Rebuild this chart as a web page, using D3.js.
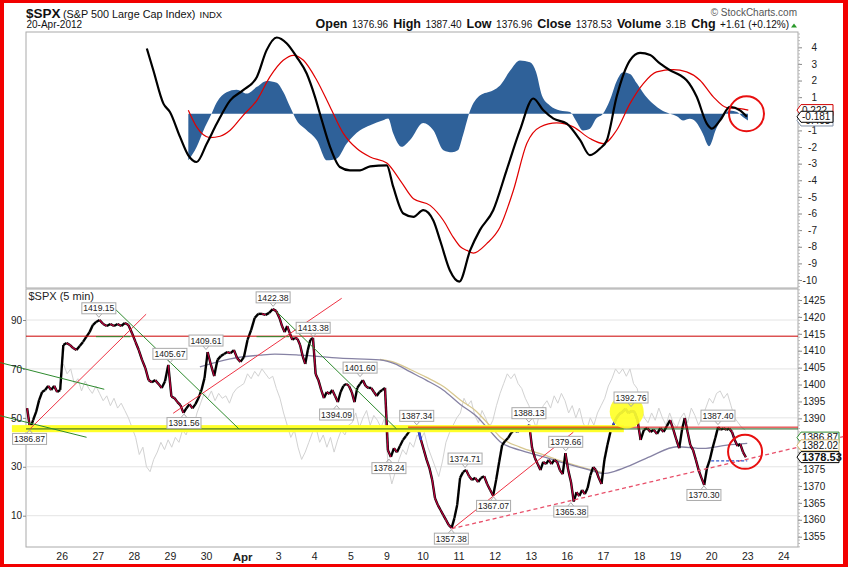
<!DOCTYPE html>
<html><head><meta charset="utf-8">
<script src="https://cdn.jsdelivr.net/npm/d3@7"></script>
<style>body{margin:0;background:#fff}svg{display:block}text{font-family:"Liberation Sans",Arial,sans-serif}</style>
</head><body><svg id="c" width="848" height="567"></svg>
<script>
// ---------- DATA ----------
const dayTicks = d3.range(1, 22);
const dayLabels = ["26","27","28","29","30","Apr","3","4","5","9","10","11","12","13","16","17","18","19","20","23","24"];

// 5-min SPX price samples, evenly spaced through each trading day (Mar 23 .. Apr 20)
const priceByDay = [
 [1393.0,1386.9,1389.5,1391.9,1395.4,1397.8,1398.4,1399.6,1398.4,1399.6,1397.8,1398.4],
 [1411.7,1412.3,1411.7,1410.8,1410.2,1411.4,1412.6,1414.1,1415.5,1417.6,1418.5],
 [1419.1,1417.9,1417.3,1417.9,1417.3,1417.9,1417.3,1418.2,1417.6,1415.2],
 [1412.6,1410.2,1407.3,1404.9,1401.3,1400.7,1401.3,1400.2,1399.0,1401.0,1405.8],
 [1396.4,1396.0,1394.8,1393.9,1391.6,1393.0,1394.2,1393.0,1394.2,1396.0,1398.4,1401.9],
 [1409.6,1405.8,1402.5,1407.3,1408.4,1409.0,1409.6,1409.3,1410.2,1407.8,1406.7],
 [1408.1,1413.2,1416.1,1419.7,1420.9,1420.9,1420.6,1421.2,1422.3,1421.7],
 [1419.7,1417.3,1415.5,1417.3,1415.2,1413.2,1413.8,1413.5,1411.7,1408.4,1406.1,1410.2,1413.2,1413.8],
 [1403.1,1401.3,1398.4,1396.0,1397.8,1397.2,1398.4,1396.6,1394.8,1397.8,1399.6,1400.2,1399.6],
 [1397.8,1394.8,1399.0,1400.2,1401.3,1399.6,1399.0,1399.0,1397.8,1396.6,1397.8,1398.4,1399.0],
 [1380.6,1378.6,1381.2,1380.0,1381.8,1383.6,1384.8,1386.0,1387.1,1387.4,1387.1,1383.6],
 [1380.6,1377.7,1375.3,1371.8,1366.4,1364.4,1362.9,1361.4,1359.9,1358.4,1357.6,1360.5,1364.4],
 [1372.4,1374.1,1374.7,1372.9,1371.8,1372.4,1371.2,1372.4,1372.9,1370.6,1368.8,1367.1],
 [1371.8,1377.1,1382.1,1383.3,1384.2,1385.7,1386.6,1386.0,1386.6,1387.1,1386.6,1388.1],
 [1381.2,1378.3,1376.5,1374.7,1377.1,1376.5,1377.7,1376.5,1377.7,1377.1,1374.7,1373.5,1379.7],
 [1374.7,1371.2,1365.4,1368.2,1367.0,1368.8,1367.6,1369.4,1373.2,1375.6,1374.7,1372.4,1370.6],
 [1377.7,1382.1,1386.0,1388.1,1390.1,1391.3,1391.9,1392.8,1391.6,1392.2,1391.9,1389.5],
 [1383.6,1386.6,1387.1,1386.0,1386.6,1385.4,1387.1,1386.0,1387.7,1389.5,1386.6],
 [1383.6,1381.2,1386.6,1390.1,1386.0,1382.1,1380.6,1377.7,1374.7,1372.4,1370.3,1375.3,1377.7],
 [1381.2,1384.2,1387.4,1386.6,1387.1,1386.6,1387.0,1386.0,1383.6,1381.8,1382.4,1380.0,1378.5]
];
// light gray indicator (left axis), per day; day 0 has none
const grayByDay = [
 [],
 [72,68,70,64,66,61,65,62,60,63],
 [60,57,59,55,58,54,56,53,50,46],
 [42,35,38,30,28,33,36,40,37,41],
 [38,42,40,45,43,48,46,52,56,60],
 [58,61,57,60,58,59,56,60,62,63],
 [64,68,66,69,67,70,68,66,67,62],
 [58,52,47,42,45,38,33,36,40,44],
 [46,40,43,38,42,36,41,45,43,47],
 [48,52,46,50,53,47,51,49,46,50],
 [30,23,28,33,37,35,40,38,43,41],
 [44,38,34,30,26,32,40,44,47,50],
 [52,58,55,57,51,48,53,50,46,49],
 [55,60,64,68,66,68,64,62,58,55],
 [50,46,52,55,57,54,59,56,60,57],
 [52,55,50,54,48,45,50,47,52,55],
 [58,63,66,70,68,70,67,70,64,62],
 [55,50,48,52,49,54,50,47,52,48],
 [46,50,52,48,54,51,47,50,54,58],
 [56,60,61,58,60,55,50,48,46,45]
];
// moving averages [day, price]
const maPurple = [[4.83,1405.2],[5.67,1407.6],[6.50,1408.7],[6.91,1409.0],[7.61,1408.7],[8.71,1407.8],[9.82,1407.3],[10.24,1406.1],[10.65,1403.8],[11.10,1401.3],[11.57,1398.4],[12.04,1394.2],[12.51,1390.5],[12.87,1386.3],[13.15,1383.1],[13.70,1380.6],[14.34,1378.7],[14.81,1377.1],[15.28,1375.7],[15.64,1374.7],[16.00,1373.7],[16.34,1374.4],[16.67,1375.7],[17.31,1378.7],[18.05,1381.6],[18.78,1381.1],[19.44,1382.1],[20.0,1382.6]];
const maTan = [[9.82,1407.4],[10.24,1406.5],[10.65,1404.5],[11.10,1402.2],[11.57,1399.5],[12.04,1395.5],[12.51,1391.9],[12.87,1387.8],[13.15,1384.5],[13.70,1381.5],[14.34,1379.3],[14.81,1377.5],[15.28,1376.0],[15.64,1374.9],[16.0,1373.9]];
// MACD panel [day, value]
const macdLine = [[3.36,3.93],[3.54,2.62],[3.82,0.61],[4.00,0.11],[4.28,-1.39],[4.51,-2.5],[4.74,-2.9],[5.02,-1.8],[5.30,-0.59],[5.67,0.81],[6.03,1.42],[6.41,2.22],[6.68,3.83],[6.96,4.59],[7.24,4.23],[7.51,3.43],[7.79,2.42],[8.02,1.02],[8.21,-0.39],[8.44,-2.0],[8.71,-3.2],[8.99,-3.4],[9.27,-3.4],[9.55,-3.16],[10.01,-3.1],[10.19,-4.4],[10.47,-6.0],[10.75,-6.2],[11.02,-5.8],[11.30,-6.42],[11.50,-7.7],[11.76,-9.43],[12.02,-10.1],[12.32,-8.22],[12.59,-7.0],[12.96,-5.8],[13.33,-3.4],[13.70,-0.99],[14.07,0.92],[14.35,0.21],[14.63,-0.29],[15.00,-0.59],[15.37,-1.59],[15.64,-2.49],[15.92,-2.09],[16.11,-1.59],[16.38,1.02],[16.75,3.22],[17.03,3.67],[17.31,3.53],[17.58,3.03],[17.86,2.62],[18.14,2.32],[18.32,2.02],[18.60,1.02],[18.88,-0.59],[19.02,-0.89],[19.25,-0.39],[19.52,0.41],[19.80,0.21],[19.99,-0.18]];
const signalLine = [[4.51,0.21],[4.74,-0.79],[5.11,-1.43],[5.39,-1.35],[5.67,-0.99],[6.03,-0.09],[6.41,0.81],[6.77,2.22],[7.14,3.22],[7.42,3.52],[7.70,3.22],[8.07,2.02],[8.44,0.41],[8.81,-1.19],[9.18,-2.09],[9.55,-2.6],[10.01,-2.96],[10.38,-4.0],[10.75,-5.11],[11.21,-5.51],[11.58,-6.42],[11.85,-7.42],[12.05,-8.0],[12.23,-8.22],[12.41,-8.38],[12.78,-7.81],[13.15,-6.81],[13.52,-4.6],[13.89,-1.79],[14.26,-0.79],[14.72,-0.55],[15.18,-0.79],[15.64,-1.49],[16.01,-1.79],[16.38,-0.99],[16.75,0.61],[17.12,1.82],[17.49,2.52],[17.95,2.66],[18.32,2.52],[18.69,2.02],[19.06,1.02],[19.43,0.37],[19.80,0.31],[20.03,0.22]];
const histogram = [[4.51,-2.8],[4.74,-2.0],[4.93,-1.0],[5.11,-0.2],[5.30,0.7],[5.57,1.3],[5.85,1.45],[6.13,1.22],[6.41,1.62],[6.68,1.98],[6.96,1.86],[7.14,1.32],[7.33,0.42],[7.51,-0.39],[7.79,-0.99],[8.07,-1.59],[8.35,-2.8],[8.62,-2.7],[8.90,-1.79],[9.27,-0.99],[9.55,-0.69],[9.91,-0.39],[10.05,-0.29],[10.19,-1.19],[10.42,-1.99],[10.65,-1.59],[11.02,-0.55],[11.30,-0.99],[11.58,-2.19],[11.82,-2.32],[11.98,-2.2],[12.12,-1.3],[12.32,0.2],[12.59,1.1],[12.95,1.4],[13.15,1.7],[13.43,2.6],[13.70,3.2],[13.98,3.1],[14.15,2.5],[14.31,1.1],[14.53,0.5],[14.81,0.2],[15.09,0.1],[15.25,-0.4],[15.45,-1.0],[15.64,-0.9],[15.81,-0.3],[16.00,0.0],[16.19,0.8],[16.39,2.0],[16.56,2.5],[16.75,2.4],[16.95,1.8],[17.17,1.1],[17.39,0.6],[17.64,0.2],[17.86,0.0],[18.05,-0.15],[18.22,-0.4],[18.41,-0.3],[18.58,-0.5],[18.77,-1.2],[18.94,-1.95],[19.14,-0.9],[19.33,-0.15],[19.52,0.2],[19.72,0.1],[19.88,-0.2],[20.02,-0.4]];
// annotations
const priceLabels = [[0.11,1386.87,"below"],[2.03,1419.15,"above"],[4.00,1405.67,"above"],[4.39,1391.56,"below"],[5.00,1409.61,"above"],[6.86,1422.38,"above"],[7.97,1413.38,"above"],[8.62,1394.09,"below"],[9.27,1401.60,"above"],[10.07,1378.24,"below"],[10.84,1387.34,"above"],[11.80,1357.38,"below"],[12.18,1374.71,"above"],[12.97,1367.07,"below"],[13.95,1388.13,"above"],[14.97,1379.66,"above"],[15.11,1365.38,"below"],[16.78,1392.76,"above"],[18.80,1370.30,"below"],[19.19,1387.40,"above"]];
const redTrend = [[[0.12,1386.87],[3.34,1420.8]],[[4.09,1391.5],[8.76,1425.5]],[[11.81,1357.2],[15.18,1385.9]]];
const redDashed = [[11.81,1357.38],[22.66,1384.6]];
const greenTrend = [[[-0.71,1406.5],[2.18,1398.6]],[[-0.71,1390.8],[1.69,1384.4]],[[2.34,1423.8],[5.92,1386.8]],[[6.96,1421.5],[10.28,1386.9]]];
const resistance = 1414.3, support = 1386.87, lastHigh = 1387.4;
const greenShort = [[1.95,2.9],[6.4,7.3]];
const yellowBand = {from:-0.38, to:16.58, lo:1385.9, hi:1388.0};
const blueRanges = [[10.75,10.99],[13.5,13.98],[16.25,17.03]];
const blueDash = [[19.0,1377.4],[20.0,1377.4]];
const yellowCircle = [16.66,1392.0];
const redCircles = {macd:[19.98,0.0], price:[19.94,1380.1]};
const macdTags = [["0.222",0.222,"#d00000"],["-0.403",-0.403,"#8090a8"],["-0.181",-0.181,"#000"]];
const priceTags = [["1386.87",1384.3,"#2e8b2e",false],["1382.02",1382.02,"#d4b870",false],["1378.53",1378.53,"#000",true]];

// ---------- SCALES ----------
const svg = d3.select("#c");
const L = 26, R = 798;
const x = d3.scaleLinear().domain([0, 21.41]).range([25.6, 798.1]);
const yM = d3.scaleLinear().domain([-10, 4]).range([280, 47.3]);
const yP = d3.scaleLinear().domain([1355, 1425]).range([536.7, 300]);
const yG = d3.scaleLinear().domain([10, 90]).range([515.7, 320]);

function flatten(byDay){const out=[];byDay.forEach((a,k)=>a.forEach((v,i)=>out.push({t:k+(i+0.5)/a.length,v})));return out;}
const price = flatten(priceByDay), gray = flatten(grayByDay);

// border
svg.append("rect").attr("width",848).attr("height",567).attr("fill","#fff");
const RED="#f20000";
[[0,0,4,567],[0,0,848,3],[843,0,5,567],[0,564,848,3]].forEach(r=>svg.append("rect").attr("x",r[0]).attr("y",r[1]).attr("width",r[2]).attr("height",r[3]).attr("fill",RED));

// header
const hd = svg.append("g").attr("fill","#111");
hd.append("text").attr("x",26).attr("y",17.5).attr("font-size",13.5).attr("font-weight","bold").text("$SPX");
hd.append("text").attr("x",63).attr("y",17.5).attr("font-size",10.8).text("(S&P 500 Large Cap Index)");
hd.append("text").attr("x",199.5).attr("y",17.5).attr("font-size",9.5).text("INDX");
hd.append("text").attr("x",26.5).attr("y",28.3).attr("font-size",10).text("20-Apr-2012");
hd.append("text").attr("x",797).attr("y",16).attr("font-size",10).attr("fill","#555").attr("text-anchor","end").text("© StockCharts.com");
const ohlc = [["Open","1376.96"],["High","1387.40"],["Low","1376.96"],["Close","1378.53"],["Volume","3.1B"],["Chg","+1.61 (+0.12%)"]];
const ot = hd.append("text").attr("x",789).attr("y",28.3).attr("text-anchor","end");
ohlc.forEach((p,i)=>{
  ot.append("tspan").attr("font-weight","bold").attr("font-size",12.5).attr("dx",i?5:0).text(p[0]);
  ot.append("tspan").attr("font-size",10).attr("dx",4.5).text(p[1]);
});
svg.append("path").attr("d","M791,27.5 L794,23.5 L797,27.5 Z").attr("fill","#2a9a2a");

// ---------- TOP PANEL ----------
const topG = svg.append("g");
topG.append("rect").attr("x",L).attr("y",32).attr("width",R-L).attr("height",256).attr("fill","#fff").attr("stroke","#aaa");
topG.append("path").datum(histogram).attr("fill","#2f6199")
  .attr("d",d3.area().x(d=>x(d[0])).y0(yM(0)).y1(d=>yM(d[1])).curve(d3.curveMonotoneX));
topG.append("path").datum(signalLine).attr("fill","none").attr("stroke","#e00000").attr("stroke-width",1.2)
  .attr("d",d3.line().x(d=>x(d[0])).y(d=>yM(d[1])).curve(d3.curveMonotoneX));
topG.append("path").datum(macdLine).attr("fill","none").attr("stroke","#000").attr("stroke-width",2.2)
  .attr("d",d3.line().x(d=>x(d[0])).y(d=>yM(d[1])).curve(d3.curveMonotoneX));
topG.append("circle").attr("cx",x(redCircles.macd[0])).attr("cy",yM(redCircles.macd[1])).attr("r",17.5)
  .attr("fill","none").attr("stroke","#e81010").attr("stroke-width",2);
// tick labels hidden behind the value tags are left out
const ax1 = topG.append("g").attr("transform",`translate(${R},0)`)
  .call(d3.axisRight(yM).tickValues(d3.range(-10,5)).tickSize(4).tickFormat(d=>d===0?"":String(d)));
ax1.select(".domain").remove();
ax1.selectAll("line").attr("stroke","#888");
ax1.selectAll("text").attr("x",19).attr("text-anchor","end").attr("font-size",10).attr("fill","#222").attr("font-family","Liberation Sans, Arial");
topG.append("g").selectAll("line").data(d3.range(-10.4,4.9,0.2)).join("line")
  .attr("x1",R).attr("x2",R+2).attr("y1",d=>yM(d)).attr("y2",d=>yM(d)).attr("stroke","#bbb");

function tag(g,y,text,stroke,bold,w){
  g.append("path").attr("d",`M797,${y} L801,${y-5.5} L${797+w},${y-5.5} L${797+w},${y+5.5} L801,${y+5.5} Z`)
   .attr("fill","#fff").attr("stroke",stroke);
  g.append("text").attr("x",802).attr("y",y+3.7).attr("font-size",bold?11:10).attr("font-weight",bold?"bold":"normal").attr("fill","#111").text(text);
}
macdTags.forEach(t=>tag(topG,yM(t[1]),t[0],t[2],false,36));

// ---------- BOTTOM PANEL ----------
const bot = svg.append("g");
bot.append("rect").attr("x",L).attr("y",289).attr("width",R-L).attr("height",258).attr("fill","#fff").attr("stroke","#aaa");
const clipId="pc";
svg.append("clipPath").attr("id",clipId).append("rect").attr("x",L).attr("y",289).attr("width",R-L).attr("height",258);
bot.append("g").selectAll("line").data([10,30,50,70,90]).join("line")
  .attr("x1",L+1).attr("x2",R-1).attr("y1",d=>yG(d)).attr("y2",d=>yG(d)).attr("stroke","#e4e4e4");
const pc = bot.append("g").attr("clip-path",`url(#${clipId})`);
pc.append("path").datum(gray).attr("fill","none").attr("stroke","#d2d2d2").attr("stroke-width",1)
  .attr("d",d3.line().x(d=>x(d.t)).y(d=>yG(d.v)));
bot.append("rect").attr("x",x(yellowBand.from)).attr("y",yP(yellowBand.hi)).attr("width",x(yellowBand.to)-x(yellowBand.from))
  .attr("height",yP(yellowBand.lo)-yP(yellowBand.hi)).attr("fill","#ffff2a");
bot.append("line").attr("x1",L).attr("x2",R).attr("y1",yP(resistance)).attr("y2",yP(resistance)).attr("stroke","#cc0000");
greenShort.forEach(s=>bot.append("line").attr("x1",x(s[0])).attr("x2",x(s[1])).attr("y1",yP(resistance)+0.5).attr("y2",yP(resistance)+0.5).attr("stroke","#2a8a2a"));
bot.append("line").attr("x1",L).attr("x2",R).attr("y1",yP(support)).attr("y2",yP(support)).attr("stroke","#1f5f1f");
bot.append("line").attr("x1",x(10.6)).attr("x2",R).attr("y1",yP(lastHigh)).attr("y2",yP(lastHigh)).attr("stroke","#dd1010");
pc.append("path").datum(maTan).attr("fill","none").attr("stroke","#d8c890").attr("stroke-width",1.3)
  .attr("d",d3.line().x(d=>x(d[0])).y(d=>yP(d[1])).curve(d3.curveMonotoneX));
pc.append("path").datum(maPurple).attr("fill","none").attr("stroke","#8682a4").attr("stroke-width",1.3)
  .attr("d",d3.line().x(d=>x(d[0])).y(d=>yP(d[1])).curve(d3.curveMonotoneX));
redTrend.forEach(s=>bot.append("line").attr("x1",x(s[0][0])).attr("y1",yP(s[0][1])).attr("x2",x(s[1][0])).attr("y2",yP(s[1][1])).attr("stroke","#ee3344").attr("stroke-width",1));
greenTrend.forEach(s=>bot.append("line").attr("x1",x(s[0][0])).attr("y1",yP(s[0][1])).attr("x2",x(s[1][0])).attr("y2",yP(s[1][1])).attr("stroke","#2e8b2e").attr("stroke-width",1));
bot.append("line").attr("x1",x(redDashed[0][0])).attr("y1",yP(redDashed[0][1])).attr("x2",x(redDashed[1][0])).attr("y2",yP(redDashed[1][1]))
  .attr("stroke","#e8506a").attr("stroke-width",1.3).attr("stroke-dasharray","4,3");
bot.append("line").attr("x1",x(blueDash[0][0])).attr("y1",yP(blueDash[0][1])).attr("x2",x(blueDash[1][0])).attr("y2",yP(blueDash[1][1]))
  .attr("stroke","#3355cc").attr("stroke-width",1.2).attr("stroke-dasharray","3,2");
bot.append("circle").attr("cx",x(yellowCircle[0])).attr("cy",yP(yellowCircle[1])).attr("r",17).attr("fill","#ffff22").attr("opacity",0.9);
// price: black bars with red traces on falling moves
const segs = d3.pairs(price);
const segLine = sel=>sel.attr("x1",d=>x(d[0].t)).attr("y1",d=>yP(d[0].v)).attr("x2",d=>x(d[1].t)).attr("y2",d=>yP(d[1].v));
pc.append("g").selectAll("line").data(segs).join("line").call(segLine).attr("stroke","#000").attr("stroke-width",2.4);
pc.append("g").selectAll("line").data(segs.filter(d=>d[1].v<d[0].v)).join("line").call(segLine).attr("stroke","#c0003c").attr("stroke-width",1.2);
const inBlue = t=>blueRanges.some(r=>t>=r[0]&&t<=r[1]);
pc.append("g").selectAll("line").data(segs.filter(d=>inBlue(d[0].t)&&inBlue(d[1].t))).join("line").call(segLine)
  .attr("stroke","#3344dd").attr("stroke-width",2.4);
bot.append("circle").attr("cx",x(redCircles.price[0])).attr("cy",yP(redCircles.price[1])).attr("r",17)
  .attr("fill","none").attr("stroke","#e81010").attr("stroke-width",2);
const lg = bot.append("g");
priceLabels.forEach(([t,v,pos])=>{
  const cx=x(t), py=yP(v), cy = pos==="above"? py-11.5 : py+10, w=34;
  const g=lg.append("g");
  const ty = pos==="above"? cy+5.5 : cy-5.5, tip = pos==="above"? cy+9 : cy-9;
  g.append("path").attr("d",`M${cx-3},${ty} L${cx},${tip} L${cx+3},${ty}`).attr("fill","none").attr("stroke","#aaa");
  g.append("rect").attr("x",cx-w/2).attr("y",cy-5.5).attr("width",w).attr("height",11).attr("fill","#fff").attr("stroke","#aaa");
  g.append("text").attr("x",cx).attr("y",cy+3.2).attr("text-anchor","middle").attr("font-size",8.6).attr("fill","#222").text(v.toFixed(2));
});
bot.append("text").attr("x",28.5).attr("y",300).attr("font-size",11).attr("font-family","DejaVu Sans").attr("fill","#222").text("$SPX (5 min)");
const ax2 = bot.append("g").attr("transform",`translate(${R},0)`)
  .call(d3.axisRight(yP).tickValues(d3.range(1355,1426,5)).tickSize(4).tickPadding(1).tickFormat(d=>(d===1380||d===1385)?"":String(d)));
ax2.select(".domain").remove();
ax2.selectAll("line").attr("stroke","#888");
ax2.selectAll("text").attr("font-size",10).attr("fill","#222").attr("font-family","Liberation Sans, Arial");
bot.append("g").selectAll("line").data(d3.range(1352,1429,1)).join("line")
  .attr("x1",R).attr("x2",R+2).attr("y1",d=>yP(d)).attr("y2",d=>yP(d)).attr("stroke","#bbb");
const ax3 = bot.append("g").attr("transform",`translate(${L},0)`)
  .call(d3.axisLeft(yG).tickValues([10,30,50,70,90]).tickSize(3).tickPadding(1));
ax3.select(".domain").remove();
ax3.selectAll("line").attr("stroke","#888");
ax3.selectAll("text").attr("font-size",10).attr("fill","#222").attr("font-family","Liberation Sans, Arial");
const ax4 = bot.append("g").attr("transform",`translate(0,547)`)
  .call(d3.axisBottom(x).tickValues(dayTicks).tickSize(0).tickPadding(6).tickFormat((d,i)=>dayLabels[i]));
ax4.select(".domain").remove();
ax4.selectAll("text").attr("font-size",d=>dayLabels[d-1]==="Apr"?11.5:10.5).attr("font-weight",d=>dayLabels[d-1]==="Apr"?"bold":"normal")
  .attr("fill","#222").attr("font-family","Liberation Sans, Arial");
priceTags.forEach(t=>tag(bot,yP(t[1]),t[0],t[2],t[3],42));
</script></body></html>
